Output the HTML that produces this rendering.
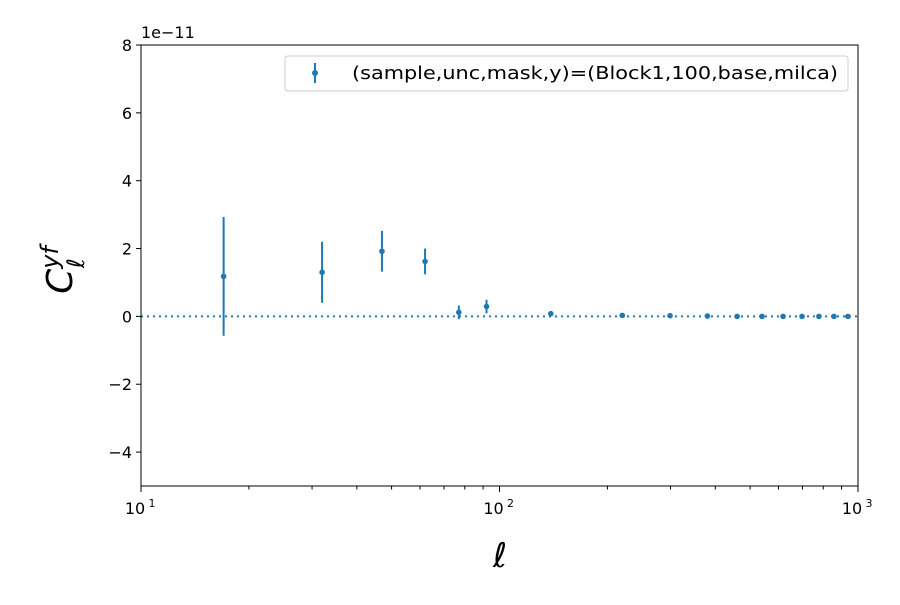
<!DOCTYPE html>
<html><head><meta charset="utf-8"><style>
body{margin:0;background:#fff;}
svg text{font-family:"DejaVu Sans","Liberation Sans",sans-serif;}
</style></head><body>
<svg id="chart" width="900" height="600" xmlns="http://www.w3.org/2000/svg">
<rect width="900" height="600" fill="#fff"/>
<g id="marks"></g>
<rect x="141" y="45" width="717" height="441" fill="none" stroke="#000" stroke-width="1"/>
<g id="axes"></g>
<text x="141" y="38" font-size="16">1e−11</text>
<text x="500" y="567" font-size="34" font-style="italic" text-anchor="middle" font-family="Liberation Serif,serif">ℓ</text>
<text transform="translate(72,270) rotate(-90)" font-size="36" font-style="italic" text-anchor="middle" font-family="Liberation Serif,serif">C<tspan font-size="24" dy="-14">yf</tspan><tspan font-size="24" dx="-22" dy="26">ℓ</tspan></text>
<g>
<rect x="285" y="56" width="563" height="35" rx="3" fill="#fff" stroke="#ccc"/>
<line x1="315" y1="63" x2="315" y2="83" stroke="#1f77b4" stroke-width="2"/>
<circle cx="315" cy="73" r="3" fill="#1f77b4"/>
<text x="352" y="79" font-size="17.5" textLength="486" lengthAdjust="spacingAndGlyphs">(sample,unc,mask,y)=(Block1,100,base,milca)</text>
</g>
</svg>
<script>
const ells=[17,32,47,62,77,92,139,220,299,380,460,540,618,698,778,857,937];
const vals=[1.18,1.3,1.92,1.62,0.12,0.29,0.08,0.03,0.02,0.01,0,0,0,0,0,0,0];
const errs=[1.75,0.9,0.6,0.38,0.2,0.2,0.05,0.03,0.02,0.02,0.02,0.02,0.02,0.02,0.02,0.02,0.02];
const yTicks=[-4,-2,0,2,4,6,8];
const xDecades=[1,2,3];
const X0=141,X1=858,Y0=486,Y1=45;
const xs=l=>X0+(Math.log10(l)-1)/2*(X1-X0);
const ys=v=>Y0-(v+5)/13*(Y0-Y1);
const NS="http://www.w3.org/2000/svg";
function mk(t,a,p){const e=document.createElementNS(NS,t);for(const k in a)e.setAttribute(k,a[k]);p.appendChild(e);return e;}
const m=document.getElementById('marks'),ax=document.getElementById('axes');
const zl=mk('line',{x1:X0,x2:X1,y1:ys(0),y2:ys(0),stroke:'#1f77b4','stroke-width':2,'stroke-dasharray':'2,4'},m);


ells.forEach((l,i)=>{
 const x=xs(l);
 const e=mk('line',{x1:x,x2:x,y1:ys(vals[i]-errs[i]),y2:ys(vals[i]+errs[i]),stroke:'#1f77b4','stroke-width':2},m);
 
 
 const c=mk('circle',{cx:x,cy:ys(vals[i]),r:2.8,fill:'#1f77b4'},m);
 
 
});
yTicks.forEach(v=>{
 const y=ys(v);
 mk('line',{x1:X0-5,x2:X0,y1:y,y2:y,stroke:'#000'},ax);
 const t=mk('text',{x:X0-9,y:y+6,'font-size':16,'text-anchor':'end'},ax);
 t.textContent=(v<0?'−':'')+Math.abs(v);
 
 
});
for(let d=1;d<3;d++)for(let k=2;k<10;k++){const x=xs(k*Math.pow(10,d));mk('line',{x1:x,x2:x,y1:Y0,y2:Y0+3.5,stroke:'#000'},ax);}
xDecades.forEach(d=>{
 const x=xs(Math.pow(10,d));
 mk('line',{x1:x,x2:x,y1:Y0,y2:Y0+6,stroke:'#000'},ax);
 const t=mk('text',{x:x-6,y:Y0+28,'font-size':16,'text-anchor':'middle'},ax);
 t.textContent='10';
 
 
 const s=mk('text',{x:x+11,y:Y0+21,'font-size':11,'text-anchor':'middle'},ax);
 s.textContent=String(d);
 
 
});
</script>
</body></html>
